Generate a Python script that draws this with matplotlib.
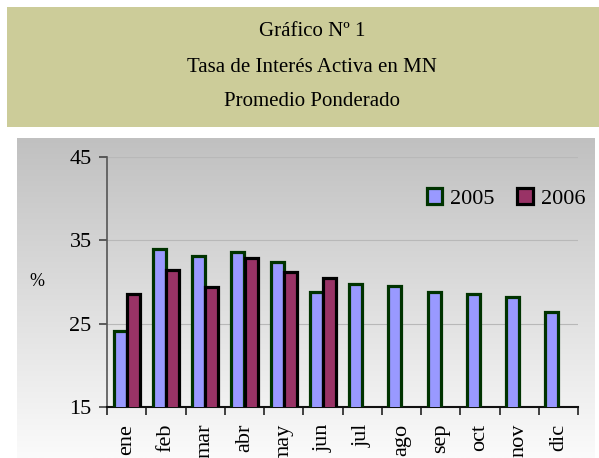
import numpy as np
import matplotlib
matplotlib.use("Agg")
import matplotlib.pyplot as plt
from matplotlib.patches import Rectangle
from matplotlib.colors import LinearSegmentedColormap

months = ["ene", "feb", "mar", "abr", "may", "jun",
          "jul", "ago", "sep", "oct", "nov", "dic"]
rate_2005 = [24.1, 34.0, 33.1, 33.6, 32.4, 28.8, 29.8, 29.5, 28.8, 28.6, 28.2, 26.4]
rate_2006 = [28.6, 31.4, 29.4, 32.9, 31.2, 30.5]
title_lines = ["Gráfico Nº 1", "Tasa de Interés Activa en MN", "Promedio Ponderado"]

W, H = 599, 458
SERIF = "Liberation Serif"
C05_FILL, C05_EDGE = "#9999FF", "#003300"
C06_FILL, C06_EDGE = "#993366", "#000000"

fig = plt.figure(figsize=(W / 100, H / 100), dpi=100, facecolor="white")

# header box
fig.patches.append(Rectangle((7 / W, 1 - 127 / H), 592 / W, 120 / H,
                             transform=fig.transFigure, facecolor="#CCCC99",
                             edgecolor="none", zorder=0))
for txt, yp in zip(title_lines, [31, 67, 101]):
    fig.text(312 / W, 1 - yp / H, txt, ha="center", va="center",
             family=SERIF, fontsize=15, color="black")

# gradient panel behind the plot
bg = fig.add_axes([17 / W, 0, 578 / W, 1 - 138 / H], zorder=0)
grad = np.linspace(0, 1, 256).reshape(-1, 1)
cmap = LinearSegmentedColormap.from_list("g", ["#C0C0C0", "#FBFBFB"])
bg.imshow(grad, aspect="auto", cmap=cmap, extent=[0, 1, 0, 1], origin="upper")
bg.set_axis_off()

ax = fig.add_axes([107 / W, 1 - 407 / H, 471 / W, 250 / H], zorder=1)
ax.patch.set_alpha(0)

x = np.arange(len(months))
lw = 2.3
ax.bar(x - 0.165, rate_2005, 0.33, color=C05_FILL, edgecolor=C05_EDGE,
       linewidth=lw, label="2005", zorder=3)
ax.bar(x[:len(rate_2006)] + 0.17, rate_2006, 0.33, color=C06_FILL,
       edgecolor=C06_EDGE, linewidth=lw, label="2006", zorder=4)

ax.set_xlim(-0.5, 11.5)
ax.set_ylim(15, 45)
ax.set_yticks([15, 25, 35, 45])
ax.set_xticks(x)
ax.set_xticklabels(months, rotation=90, family=SERIF, fontsize=16)
ax.set_xticks(np.arange(-0.5, 12, 1), minor=True)
ax.tick_params(axis="x", which="major", length=0, pad=12)
ax.tick_params(axis="x", which="minor", length=6, width=1.2, direction="out",
               color="#222222")
ax.tick_params(axis="y", length=6, width=1.2, color="#444444", pad=5)
for lab in ax.get_yticklabels():
    lab.set_family(SERIF)
    lab.set_fontsize(16)

ax.grid(axis="y", color="#B8B8B8", linewidth=0.8, zorder=0)
for s in ["top", "right"]:
    ax.spines[s].set_visible(False)
ax.spines["left"].set_color("#555555")
ax.spines["left"].set_linewidth(1.2)
ax.spines["bottom"].set_color("#111111")
ax.spines["bottom"].set_linewidth(1.5)

fig.text(37 / W, 1 - 281 / H, "%", family=SERIF, fontsize=13,
         ha="center", va="center")

leg = ax.legend(loc="center right", bbox_to_anchor=(1.058, 0.835), ncol=2,
                frameon=False, prop={"family": SERIF, "size": 16},
                handlelength=0.7, handleheight=0.7, handletextpad=0.35,
                columnspacing=1.04)

fig.savefig("out.png", dpi=100)
